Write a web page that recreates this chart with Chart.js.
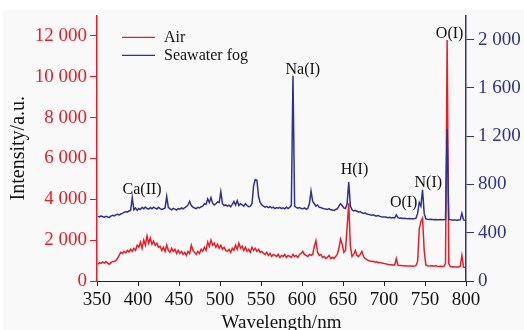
<!DOCTYPE html>
<html>
<head>
<meta charset="utf-8">
<script src="https://cdn.jsdelivr.net/npm/chart.js@4.4.1/dist/chart.umd.min.js"></script>
<style>
  html, body { margin: 0; padding: 0; background: #fff; }
  #wrap { width: 524px; height: 330px; }
</style>
</head>
<body>
<div id="wrap"><canvas id="spectrum"></canvas></div>
<script>
// sampling grid, nm (odd wavelengths 351..799)
const wavelength = [];
for (let w = 351; w <= 799; w += 2) wavelength.push(w);

// Air, left axis (a.u.)
const air = [
  820,900,860,930,880,950,870,820,900,960,960,1000,1100,1250,1400,1350,1450,1380,1500,1420,1550,1450,1600,1500,1750,
  1650,1900,1600,2000,1750,2200,1850,2100,1800,1950,1750,1850,1650,1700,1500,1650,1450,1750,1500,1400,1600,1450,1550,1350,1500,
  1350,1450,1300,1400,1250,1450,1350,1750,1500,1400,1300,1450,1350,1550,1450,1650,1500,1900,1700,2000,1750,1850,1650,1800,1600,
  1750,1550,1650,1500,1450,1550,1400,1600,1500,1750,1550,1850,1600,1700,1500,1650,1450,1550,1400,1650,1500,1600,1450,1550,1400,
  1450,1350,1300,1400,1250,1350,1200,1300,1250,1200,1300,1150,1250,1200,1300,1150,1250,1200,1150,1300,1200,1250,1150,1300,1350,
  1450,1300,1250,1200,1300,1250,1300,1700,1970,1400,1250,1300,1150,1200,1100,1150,1250,1100,1150,1100,1200,1300,1600,2050,1800,
  1400,1500,2600,3800,1700,1200,1300,1500,1250,1200,1300,1450,1200,1100,1050,1000,980,950,960,920,940,900,910,880,870,
  850,830,810,800,790,780,770,1100,775,760,760,745,750,735,740,730,735,725,730,760,950,2550,2900,3080,1500,
  780,750,740,730,745,725,760,720,710,720,705,715,850,11800,850,705,690,700,685,680,690,720,1250,680,660
];

// Seawater fog, right axis (a.u.)
const fog = [
  535,530,540,532,528,535,530,527,538,545,540,548,552,548,555,560,568,575,570,580,585,690,590,605,585,
  600,592,610,598,612,600,595,608,598,612,603,596,610,600,592,598,605,700,610,598,590,602,595,588,600,
  595,605,598,608,615,630,660,625,612,605,600,610,605,615,620,640,635,680,650,690,645,630,640,655,650,
  740,640,625,630,620,628,615,635,660,630,665,625,640,630,620,640,625,615,620,640,790,840,835,700,650,
  630,620,612,618,608,615,605,612,600,608,603,610,600,606,598,612,600,610,625,1700,620,610,603,608,600,
  598,605,595,600,640,745,660,640,620,630,610,608,602,598,596,592,600,590,588,585,592,598,620,640,625,
  605,600,640,820,620,590,580,585,578,570,575,565,560,565,555,552,548,545,548,540,538,542,535,532,530,
  530,528,525,527,522,525,522,548,524,520,522,518,520,517,515,518,515,516,515,520,560,650,620,755,560,
  515,512,510,512,510,508,510,508,507,510,508,507,510,1258,510,507,505,506,505,504,505,506,560,506,504
];

const xTicks = [350, 400, 450, 500, 550, 600, 650, 700, 750, 800];
const leftTicks = [0, 2000, 4000, 6000, 8000, 10000, 12000];
const rightTicks = [0, 400, 800, 1200, 1600, 2000];

// line labels: name, wavelength and right-axis level of the text centre
const peakNames = ['Ca(II)', 'Na(I)', 'H(I)', 'O(I)', 'N(I)', 'O(I)'];
const peakWave = [405, 601, 664, 724, 754, 780];
const peakLevel = [755, 1753, 917, 649, 812, 2045];

const RED = '#ed1c24';
const BLUE = '#2e3192';
const SERIF = '"Liberation Serif", "Times New Roman", serif';

const fmt = v => String(v).replace(/\B(?=(\d{3})+(?!\d))/g, ' ');
const pts = ys => wavelength.map((w, i) => ({ x: w, y: ys[i] }));
const setTicks = arr => scale => { scale.ticks = arr.map(v => ({ value: v })); };

const paper = {
  id: 'paper',
  beforeDraw(chart) {
    const ctx = chart.ctx;
    ctx.save();
    ctx.fillStyle = '#f9f9f9';
    ctx.fillRect(3, 10, chart.width - 3, chart.height - 10);
    ctx.restore();
  }
};

const notes = {
  id: 'notes',
  afterDraw(chart) {
    const ctx = chart.ctx;
    const area = chart.chartArea;
    ctx.save();
    ctx.font = '16px ' + SERIF;
    ctx.textBaseline = 'middle';
    // legend
    chart.data.datasets.forEach((ds, i) => {
      const y = area.top + 22 + i * 18;
      ctx.strokeStyle = ds.borderColor;
      ctx.lineWidth = 1.4;
      ctx.beginPath();
      ctx.moveTo(area.left + 25, y);
      ctx.lineTo(area.left + 58, y);
      ctx.stroke();
      ctx.fillStyle = '#111';
      ctx.textAlign = 'left';
      ctx.fillText(ds.label, area.left + 67, y);
    });
    // peak names
    const xs = chart.scales.x, ys = chart.scales.y1;
    ctx.textAlign = 'center';
    ctx.fillStyle = '#111';
    peakNames.forEach((n, i) => {
      ctx.fillText(n, xs.getPixelForValue(peakWave[i]), ys.getPixelForValue(peakLevel[i]));
    });
    ctx.restore();
  }
};

new Chart(document.getElementById('spectrum'), {
  type: 'line',
  data: {
    datasets: [
      { label: 'Air', data: pts(air), yAxisID: 'y', borderColor: RED, order: 2 },
      { label: 'Seawater fog', data: pts(fog), yAxisID: 'y1', borderColor: BLUE, order: 1 }
    ]
  },
  options: {
    responsive: true,
    maintainAspectRatio: false,
    animation: false,
    events: [],
    layout: { padding: { top: 10, left: 0, right: 0, bottom: 0 } },
    elements: {
      point: { radius: 0 },
      line: { borderWidth: 1.5, tension: 0 }
    },
    plugins: { legend: { display: false }, tooltip: { enabled: false } },
    scales: {
      x: {
        type: 'linear', min: 350, max: 800,
        afterBuildTicks: setTicks(xTicks),
        afterFit: s => { s.height = 49; },
        border: { color: '#222', width: 1 },
        grid: { drawOnChartArea: false, color: '#222', tickLength: 5 },
        ticks: { color: '#111', font: { family: SERIF, size: 19 }, padding: 3, maxRotation: 0 },
        title: { display: true, text: 'Wavelength/nm', color: '#111',
                 font: { family: SERIF, size: 19 }, padding: { top: 0, bottom: -4 } }
      },
      y: {
        position: 'left', min: 0, max: 13000,
        afterBuildTicks: setTicks(leftTicks),
        afterFit: s => { s.width = 97; },
        border: { color: RED, width: 1.5 },
        grid: { drawOnChartArea: false, color: RED, tickLength: 7 },
        ticks: { color: RED, font: { family: SERIF, size: 19 }, padding: 3, callback: v => fmt(v) },
        title: { display: true, text: 'Intensity/a.u.', color: '#111',
                 font: { family: SERIF, size: 20 }, padding: { top: 7 } }
      },
      y1: {
        position: 'right', min: 0, max: 2200,
        afterBuildTicks: setTicks(rightTicks),
        afterFit: s => { s.width = 58; },
        border: { color: BLUE, width: 1.5 },
        grid: { drawOnChartArea: false, color: BLUE, tickLength: 8 },
        ticks: { color: BLUE, font: { family: SERIF, size: 19 }, padding: 4, callback: v => fmt(v) }
      }
    }
  },
  plugins: [paper, notes]
});
</script>
</body>
</html>
